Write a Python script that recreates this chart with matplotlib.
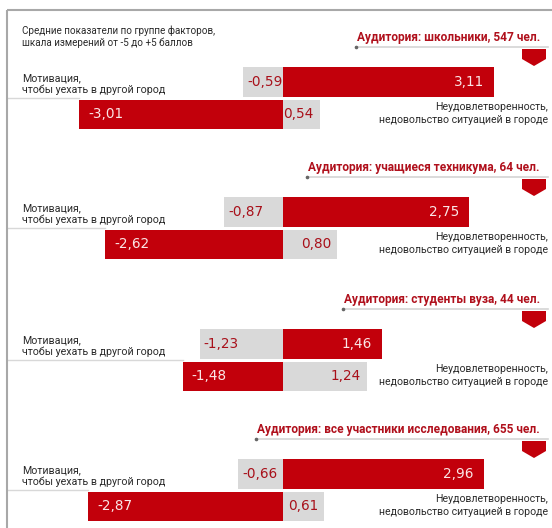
import matplotlib
matplotlib.use("Agg")
import matplotlib.pyplot as plt
from matplotlib.patches import Polygon

# ---------------- data ----------------
audiences = ["школьники, 547 чел.", "учащиеся техникума, 64 чел.",
             "студенты вуза, 44 чел.", "все участники исследования, 655 чел."]
motivation_pos = [3.11, 2.75, 1.46, 2.96]       # red, top bar
motivation_neg = [-0.59, -0.87, -1.23, -0.66]   # gray, top bar
dissat_neg = [-3.01, -2.62, -1.48, -2.87]       # red, bottom bar
dissat_pos = [0.54, 0.80, 1.24, 0.61]           # gray, bottom bar

intro_lines = ["Средние показатели по группе факторов,",
               "шкала измерений от -5 до +5 баллов"]
left_label = ["Мотивация,", "чтобы уехать в другой город"]
right_label = ["Неудовлетворенность,", "недовольство ситуацией в городе"]

# ---------------- style / layout ----------------
W, H = 552, 528
ZERO_PX = 283.0
PXU = 67.8
RED = "#c2000b"
GRAY = "#d9d9d9"
HEAD = "#b0101c"
TXT = "#2a2a2a"
ON_RED = "#fbe6e6"
ON_GRAY = "#a8101a"
NARROW = ["Liberation Sans Narrow", "DejaVu Sans Condensed", "Roboto", "DejaVu Sans"]
VALFONT = ["DejaVu Sans"]

tops = [67, 197, 329, 459]
BH = 29.5
GAP = 3.0


def px2x(px):
    return (px - ZERO_PX) / PXU


def fmt(v):
    return f"{v:.2f}".replace(".", ",")


fig = plt.figure(figsize=(W / 100, H / 100), dpi=100)
ax = fig.add_axes([0, 0, 1, 1])
ax.set_xlim(px2x(0), px2x(W))
ax.set_ylim(H, 0)
ax.axis("off")
renderer = fig.canvas.get_renderer()

# frame
ax.plot([px2x(7), px2x(7)], [10, H], color="#a8a8a8", lw=1.5, solid_capstyle="butt")
ax.plot([px2x(7), px2x(W)], [10, 10], color="#a8a8a8", lw=1.5, solid_capstyle="butt")

# intro
for k, line in enumerate(intro_lines):
    ax.text(px2x(22), 31 + 11.5 * k, line, ha="left", va="center",
            fontsize=7.1, color=TXT, family=NARROW)

for i, aud in enumerate(audiences):
    base = tops[i]
    y1 = base + BH / 2
    y2 = base + BH + GAP + BH / 2

    # header
    t = ax.text(px2x(540), base - 30, "Аудитория: " + aud, ha="right", va="center",
                fontsize=8.6, color=HEAD, family=NARROW, weight="bold")
    bb = t.get_window_extent(renderer)
    xstart = bb.x0 - 1
    ax.plot([px2x(xstart), px2x(548)], [base - 20, base - 20], color="#d4d4d4", lw=1.2)
    ax.plot([px2x(xstart)], [base - 20], marker="o", ms=1.6, color="#666666")
    # marker
    poly = Polygon([(px2x(522), base - 18), (px2x(546), base - 18), (px2x(546), base - 8),
                    (px2x(534), base - 1), (px2x(522), base - 8)],
                   closed=True, facecolor=RED, edgecolor="none")
    ax.add_patch(poly)

    # left label line
    lstart = min(motivation_neg[i], dissat_neg[i])
    ax.plot([px2x(7), lstart], [base + BH + GAP / 2] * 2, color="#d8d8d8", lw=1.0, zorder=1)

    # bars
    ax.barh(y1, motivation_pos[i], left=0, height=BH, color=RED, zorder=2)
    ax.barh(y1, motivation_neg[i], left=0, height=BH, color=GRAY, zorder=2)
    ax.barh(y2, dissat_neg[i], left=0, height=BH, color=RED, zorder=2)
    ax.barh(y2, dissat_pos[i], left=0, height=BH, color=GRAY, zorder=2)

    # values
    ax.text(motivation_pos[i] - 10 / PXU, y1, fmt(motivation_pos[i]), ha="right", va="center",
            fontsize=9.8, color=ON_RED, family=VALFONT, zorder=3)
    ax.text(motivation_neg[i] + 4 / PXU, y1, fmt(motivation_neg[i]), ha="left", va="center",
            fontsize=9.8, color=ON_GRAY, family=VALFONT, zorder=3)
    ax.text(dissat_neg[i] + 9 / PXU, y2, fmt(dissat_neg[i]), ha="left", va="center",
            fontsize=9.8, color=ON_RED, family=VALFONT, zorder=3)
    ax.text(dissat_pos[i] - 6 / PXU, y2, fmt(dissat_pos[i]), ha="right", va="center",
            fontsize=9.8, color=ON_GRAY, family=VALFONT, zorder=3)

    # labels
    ax.text(px2x(22), base + 11, left_label[0], ha="left", va="center",
            fontsize=7.7, color=TXT, family=NARROW)
    ax.text(px2x(22), base + 23, left_label[1], ha="left", va="center",
            fontsize=7.7, color=TXT, family=NARROW)
    ax.text(px2x(548), base + 40, right_label[0], ha="right", va="center",
            fontsize=7.6, color=TXT, family=NARROW)
    ax.text(px2x(548), base + 53, right_label[1], ha="right", va="center",
            fontsize=7.6, color=TXT, family=NARROW)

fig.savefig("out.png", dpi=100, facecolor="white")
